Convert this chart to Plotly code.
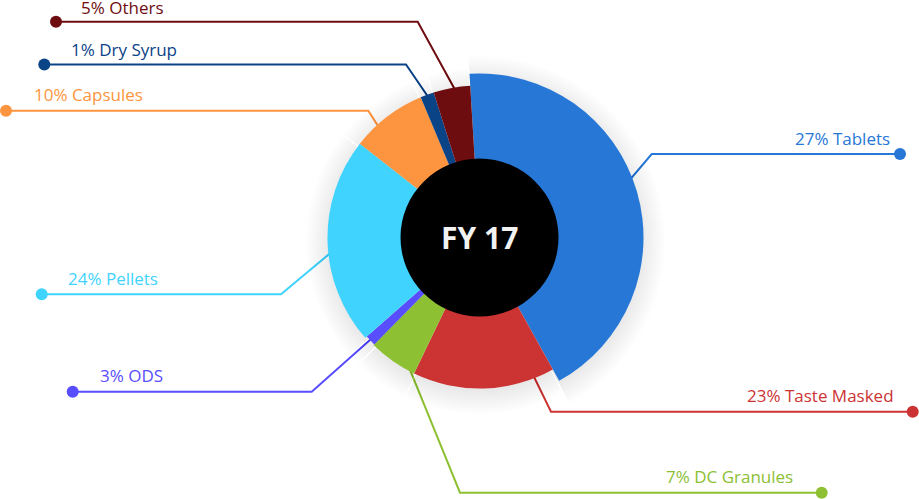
import numpy as np
import plotly.graph_objects as go

# ---------------- data ----------------
categories = ["Tablets", "Taste Masked", "DC Granules", "ODS",
              "Pellets", "Capsules", "Dry Syrup", "Others"]
label_pct = [27, 23, 7, 3, 24, 10, 1, 5]
# angular share of each slice (% of the circle) as drawn
shares = [42.9, 15.2, 5.25, 1.15, 22.05, 8.1, 1.45, 3.9]
# outer radius of each slice (px-equivalent units on the radial axis)
radii = [164, 151, 151, 150, 152, 152, 152, 152]
center_title = "FY 17"

# ---------------- styles / layout ----------------
colors = ["#2677D6", "#CC3333", "#8DC033", "#584DFF",
          "#3FD3FD", "#FD9540", "#0B4387", "#6E0D10"]
W, H = 919, 499
CX, CY = 479.5, 237.5      # pie centre in px
R_AX = 190                 # radial axis max == px radius of polar area
START = -3.5               # start angle of first slice (deg, clockwise from top)
HOLE_R = 79
SHADOW_DY = 4
tick_angle = [69, 158.7, 208.4, 226.9, 264.3, 317.6, 340, 350.7]
elbow_x = [651.7, 551, 460, 311.7, 281, 368.3, 406, 417.7]
line_y = [154, 411.7, 492.7, 391.7, 294.3, 110.7, 64.5, 21.7]
label_dy = [-16, -16, -16, -16, -16, -16, -15.5, -14.5]
dot_x = [900, 912.7, 821.7, 72.7, 41.7, 6, 44.3, 56]
label_x = [892, 896, 795, 97.7, 66, 32.3, 69.3, 79]
label_side = ["right", "right", "right", "left", "left", "left", "left", "left"]
FONT = "Open Sans"

widths = [s * 3.6 for s in shares]
starts = START + np.concatenate([[0], np.cumsum(widths)[:-1]])
mids = starts + np.array(widths) / 2


def dom(dy=0):
    x = [(CX - R_AX) / W, (CX + R_AX) / W]
    y = [(H - CY - dy - R_AX) / H, (H - CY - dy + R_AX) / H]
    return x, y


fig = go.Figure()

# leader lines + dots (cartesian overlay in pixel units)
for i, cat in enumerate(categories):
    a = np.deg2rad(tick_angle[i])
    r0 = radii[i] - 3
    sx = CX + r0 * np.sin(a)
    sy = CY - r0 * np.cos(a)
    fig.add_trace(go.Scatter(
        x=[sx, elbow_x[i], dot_x[i]], y=[sy, line_y[i], line_y[i]],
        mode="lines", line=dict(color=colors[i], width=2),
        hoverinfo="skip", showlegend=False, cliponaxis=False,
        xaxis="x", yaxis="y"))
    fig.add_trace(go.Scatter(
        x=[dot_x[i]], y=[line_y[i]], mode="markers",
        marker=dict(color=colors[i], size=12),
        hoverinfo="skip", showlegend=False, cliponaxis=False,
        xaxis="x", yaxis="y"))
    fig.add_annotation(
        x=label_x[i], y=line_y[i] + label_dy[i], xref="x", yref="y",
        text=f"{label_pct[i]}% {cat}", showarrow=False,
        xanchor=label_side[i], yanchor="middle",
        font=dict(family=FONT, size=17, color=colors[i]))

# soft shadow (polar subplot shifted down slightly)
N_SH = 22
for k in range(1, N_SH + 1):
    fig.add_trace(go.Barpolar(
        r=[r + 1.1 * k - 2 for r in radii], theta=list(mids), width=widths,
        marker=dict(color="rgba(40,50,70,0.0058)", line=dict(width=0)),
        hoverinfo="skip", showlegend=False, subplot="polar"))

# slices
fig.add_trace(go.Barpolar(
    r=radii, theta=list(mids), width=widths,
    marker=dict(color=colors, line=dict(width=0)),
    text=categories, hoverinfo="text", showlegend=False, subplot="polar2"))
# centre disc
fig.add_trace(go.Barpolar(
    r=[HOLE_R], theta=[0], width=[360],
    marker=dict(color="#000000", line=dict(width=0)),
    hoverinfo="skip", showlegend=False, subplot="polar2"))

fig.add_annotation(
    x=CX, y=CY, xref="x", yref="y", text=f"<b>{center_title}</b>",
    showarrow=False, xanchor="center", yanchor="middle",
    font=dict(family=FONT, size=30, color="#F2F2F2"))

polar_common = dict(
    bgcolor="rgba(0,0,0,0)", barmode="overlay", hole=0,
    radialaxis=dict(range=[0, R_AX], visible=False),
    angularaxis=dict(visible=False, rotation=90, direction="clockwise",
                     thetaunit="degrees"),
)
sx_, sy_ = dom(SHADOW_DY)
px_, py_ = dom(0)

fig.update_layout(
    width=W, height=H,
    margin=dict(l=0, r=0, t=0, b=0),
    paper_bgcolor="white", plot_bgcolor="rgba(0,0,0,0)",
    showlegend=False,
    xaxis=dict(range=[0, W], domain=[0, 1], visible=False, fixedrange=True),
    yaxis=dict(range=[H, 0], domain=[0, 1], visible=False, fixedrange=True),
    polar=dict(domain=dict(x=sx_, y=sy_), **polar_common),
    polar2=dict(domain=dict(x=px_, y=py_), **polar_common),
)

fig.write_html("out.html")
